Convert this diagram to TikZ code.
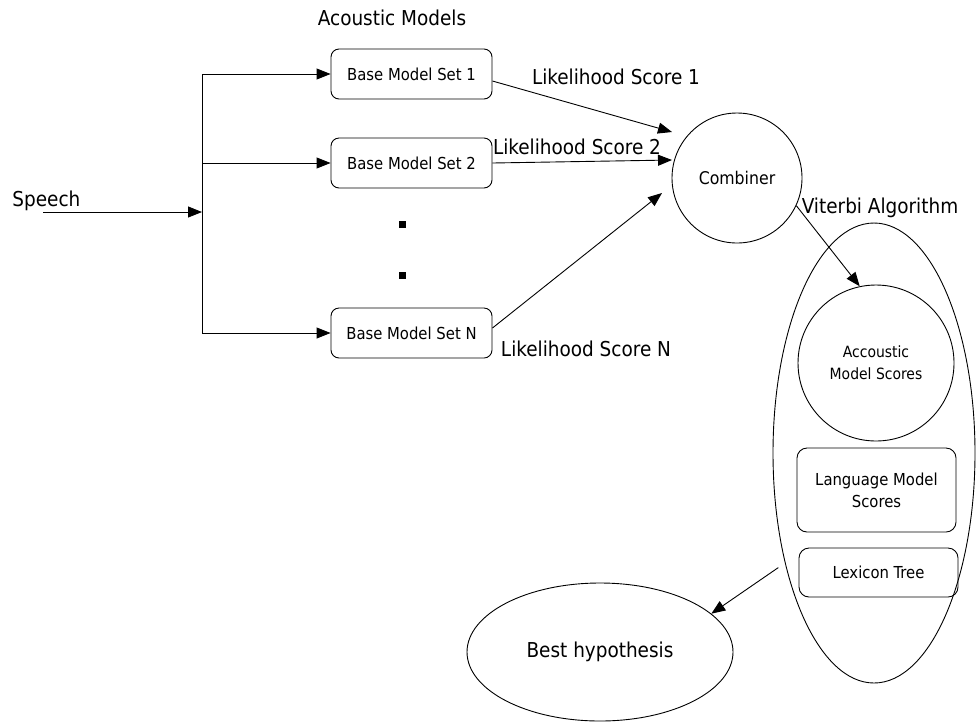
\documentclass[tikz,border=0pt]{standalone}
\usepackage{fontspec}
\setmainfont{DejaVu Sans Condensed}
\usetikzlibrary{arrows.meta,shapes.geometric,calc}
\begin{document}
\begin{tikzpicture}[x=1pt,y=-1pt,
  every path/.style={line width=0.9pt},
  arr/.style={-{Triangle[length=14pt,width=11pt]}},
  basebox/.style={draw,rounded corners=8pt,minimum width=161pt,minimum height=50pt,font=\fontsize{16.5}{20}\selectfont},
  innerbox/.style={draw,rounded corners=10pt,minimum width=159pt,align=center,font=\fontsize{16.5}{22}\selectfont},
  lbl/.style={font=\fontsize{20.5}{24}\selectfont,inner sep=0pt},
  dotsq/.style={fill=black,minimum size=7pt,inner sep=0pt}]
\useasboundingbox (0,0) rectangle (979,724);

% title and input
\node[lbl] (title) at (392,18) {Acoustic Models};
\node[lbl,anchor=west] (speech) at (12,201) {Speech};

% acoustic model sets
\node[basebox] (b1) at (411.5,74) {Base Model Set 1};
\node[basebox] (b2) at (411.5,163) {Base Model Set 2};
\node[basebox] (bN) at (411.5,333) {Base Model Set N};
\node[dotsq] (d1) at (402,224) {};
\node[dotsq] (d2) at (402,275) {};

% fan-out bus
\coordinate (sp) at (43,212);
\coordinate (bj) at (202,212);
\coordinate (bt) at (202,74);
\coordinate (bm) at (202,163);
\coordinate (bb) at (202,333);
\draw[arr] (sp) -- (bj);
\draw (bt) -- (bb);
\draw[arr] (bt) -- (b1.west);
\draw[arr] (bm) -- (b2.west);
\draw[arr] (bb) -- (bN.west);

% combiner
\node[draw,circle,minimum size=130pt,font=\fontsize{17.5}{20}\selectfont] (comb) at (737,178) {Combiner};
\coordinate (c1) at (672,132);
\coordinate (c2) at (672,160);
\coordinate (c3) at (662,193);
\draw[arr] ($(b1.east)+(0,7)$) -- (c1);
\draw[arr] (b2.east) -- (c2);
\draw[arr] ($(bN.east)+(0,-5)$) -- (c3);
\node[lbl] (ls1) at (616,77) {Likelihood Score 1};
\node[lbl] (ls2) at (577,147) {Likelihood Score 2};
\node[lbl] (lsN) at (586,349) {Likelihood Score N};

% Viterbi search
\node[draw,ellipse,minimum width=202pt,minimum height=460pt] (vit) at (874,453) {};
\node[lbl] (vlab) at (880,208) {Viterbi Algorithm};
\node[draw,circle,minimum size=156pt,align=center,font=\fontsize{15.5}{22}\selectfont] (acc) at (876,363) {Accoustic\\Model Scores};
\node[innerbox,minimum height=84pt] (lm) at (876.5,490) {Language Model\\Scores};
\node[innerbox,minimum height=49pt] (lex) at (878.5,572.5) {Lexicon Tree};
\draw[arr] (comb.-25) -- (acc.102);

% result
\node[draw,ellipse,minimum width=266pt,minimum height=138pt,font=\fontsize{20.5}{24}\selectfont] (best) at (600,652) {Best hypothesis};
\draw[arr,shorten <=8pt] (vit.231) -- (best.19);
\end{tikzpicture}
\end{document}
